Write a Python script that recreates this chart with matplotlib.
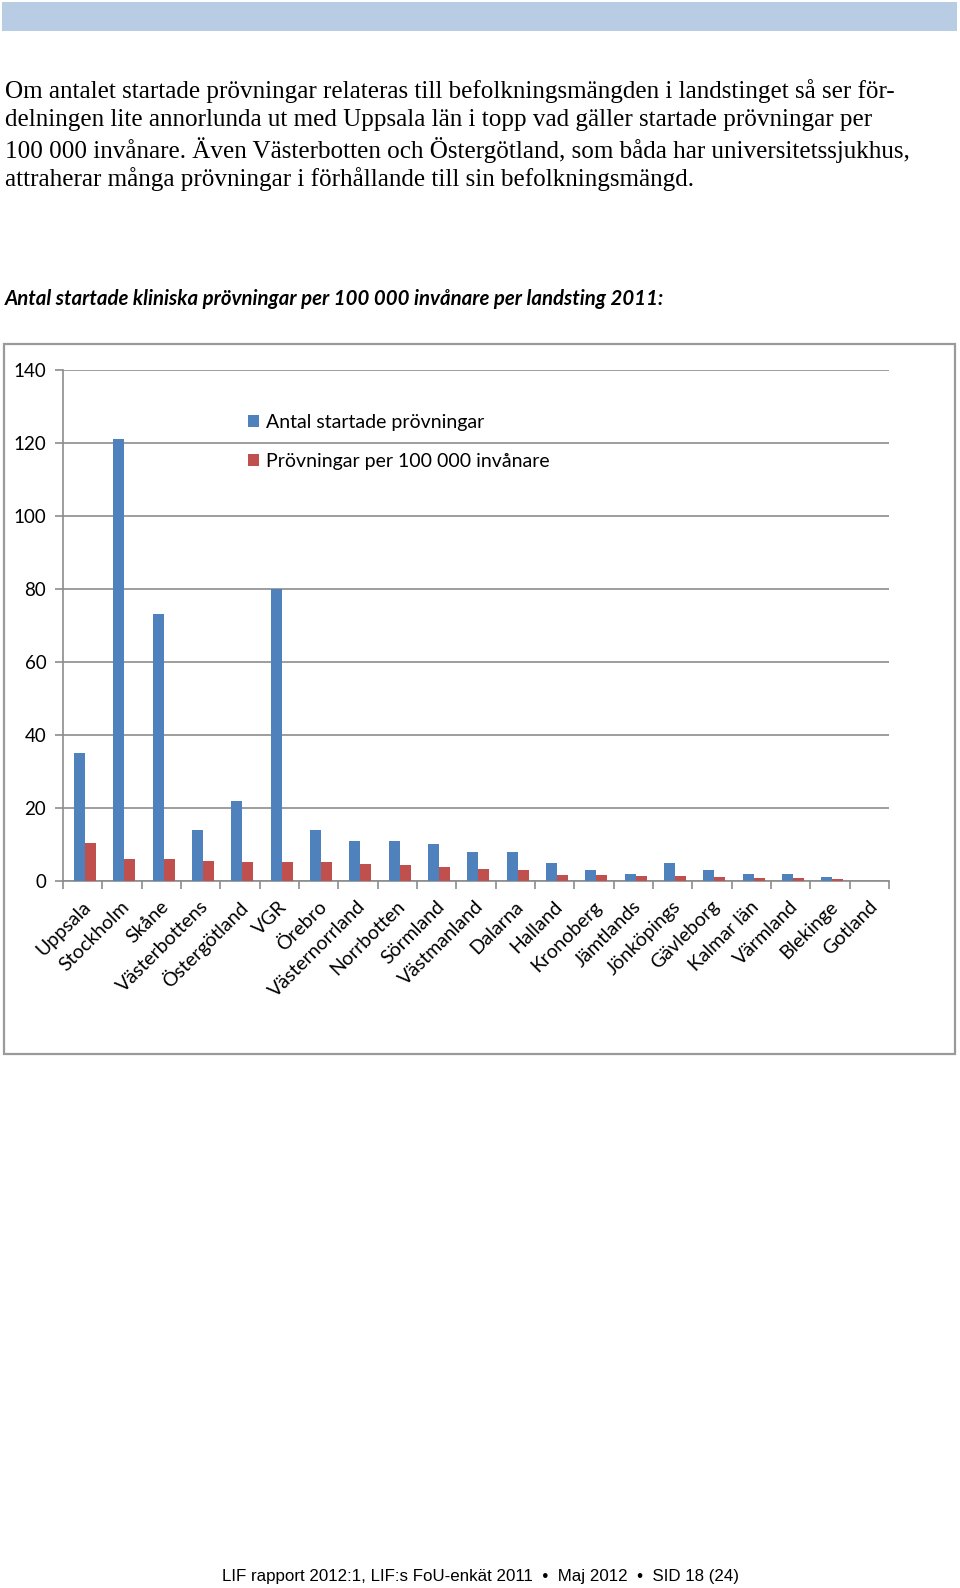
import matplotlib
matplotlib.use("Agg")
import matplotlib.pyplot as plt
import matplotlib.transforms as mtransforms
import numpy as np
from matplotlib.patches import Rectangle

categories = ["Uppsala", "Stockholm", "Skåne", "Västerbottens", "Östergötland", "VGR",
              "Örebro", "Västernorrland", "Norrbotten", "Sörmland", "Västmanland", "Dalarna",
              "Halland", "Kronoberg", "Jämtlands", "Jönköpings", "Gävleborg", "Kalmar län",
              "Värmland", "Blekinge", "Gotland"]
antal = [35, 121, 73, 14, 22, 80, 14, 11, 11, 10, 8, 8, 5, 3, 2, 5, 3, 2, 2, 1, 0]
per100k = [10.4, 5.9, 5.9, 5.4, 5.1, 5.1, 5.1, 4.6, 4.5, 3.8, 3.2, 2.9, 1.7, 1.6, 1.5, 1.4, 1.2, 0.8, 0.7, 0.6, 0.0]
series_names = ["Antal startade prövningar", "Prövningar per 100 000 invånare"]
yticks = [0, 20, 40, 60, 80, 100, 120, 140]

body_lines = [
    "Om antalet startade prövningar relateras till befolkningsmängden i landstinget så ser för-",
    "delningen lite annorlunda ut med Uppsala län i topp vad gäller startade prövningar per",
    "100 000 invånare. Även Västerbotten och Östergötland, som båda har universitetssjukhus,",
    "attraherar många prövningar i förhållande till sin befolkningsmängd.",
]
heading = "Antal startade kliniska prövningar per 100 000 invånare per landsting 2011:"
footer = "LIF rapport 2012:1, LIF:s FoU-enkät 2011  \u2022  Maj 2012  \u2022  SID 18 (24)"

W, H = 960, 1588
fig = plt.figure(figsize=(W / 100, H / 100), dpi=100)

def fx(px):
    return px / W

def fy(py):
    return 1 - py / H

# top band
fig.patches.append(Rectangle((fx(2), fy(31)), fx(955), 29 / H, transform=fig.transFigure,
                             facecolor="#b8cce4", edgecolor="none", zorder=-10))

# body text
for i, line in enumerate(body_lines):
    fig.text(fx(5), fy(91 + i * 29.4), line, fontsize=18.1, family="Liberation Serif",
             va="center", ha="left", color="black")

fig.text(fx(5), fy(299), heading, fontsize=14.7, family="Lato", weight="bold", style="italic",
         va="center", ha="left")

# chart frame
fig.patches.append(Rectangle((fx(4), fy(1054)), fx(951), 710 / H, transform=fig.transFigure,
                             facecolor="white", edgecolor="#9a9a9a", linewidth=1.6, zorder=-10))

ax = fig.add_axes([fx(63), fy(881), fx(889 - 63), (881 - 369.6) / H])
x = np.arange(len(categories))
bw = 0.28
b1 = ax.bar(x - bw / 2 + 0.06, antal, bw, color="#4f81bd", label=series_names[0], zorder=3)
b2 = ax.bar(x + bw / 2 + 0.06, per100k, bw, color="#c0504d", label=series_names[1], zorder=3)

ax.set_xlim(-0.5, len(categories) - 0.5)
ax.set_ylim(0, 140)
ax.set_yticks(yticks)
ax.set_yticklabels([str(v) for v in yticks], fontsize=13.5, family="Lato")
ax.yaxis.grid(True, color="#8c8c8c", linewidth=1.2, zorder=0)
ax.set_axisbelow(True)
ax.tick_params(axis="y", length=6, width=1.2, color="#8c8c8c", pad=6)

ax.set_xticks(x)
ax.set_xticklabels(categories, rotation=45, ha="right", va="center", rotation_mode="anchor",
                   fontsize=14, family="Lato")
ax.tick_params(axis="x", which="major", length=0, pad=15)
ax.set_xticks(np.arange(-0.5, len(categories), 1.0), minor=True)
ax.tick_params(axis="x", which="minor", length=6, width=1.2, color="#8c8c8c")
offset = mtransforms.ScaledTranslation(5 / 100, -2 / 100, fig.dpi_scale_trans)
for lbl in ax.get_xticklabels():
    lbl.set_transform(lbl.get_transform() + offset)

for s in ["top", "right"]:
    ax.spines[s].set_visible(False)
for s in ["left", "bottom"]:
    ax.spines[s].set_color("#8c8c8c")
    ax.spines[s].set_linewidth(1.2)
ax.set_facecolor("none")

leg = ax.legend(handles=[b1, b2], loc="upper left", bbox_to_anchor=(fx(248), fy(414)),
                bbox_transform=fig.transFigure, frameon=False,
                prop={"family": "Lato", "size": 14}, handlelength=0.55, handleheight=0.55,
                handletextpad=0.35, labelspacing=1.12, borderpad=0, borderaxespad=0)

fig.text(fx(480), fy(1577), footer, fontsize=12.2, family="Liberation Sans", ha="center", va="center")

fig.savefig("out.png", dpi=100)
